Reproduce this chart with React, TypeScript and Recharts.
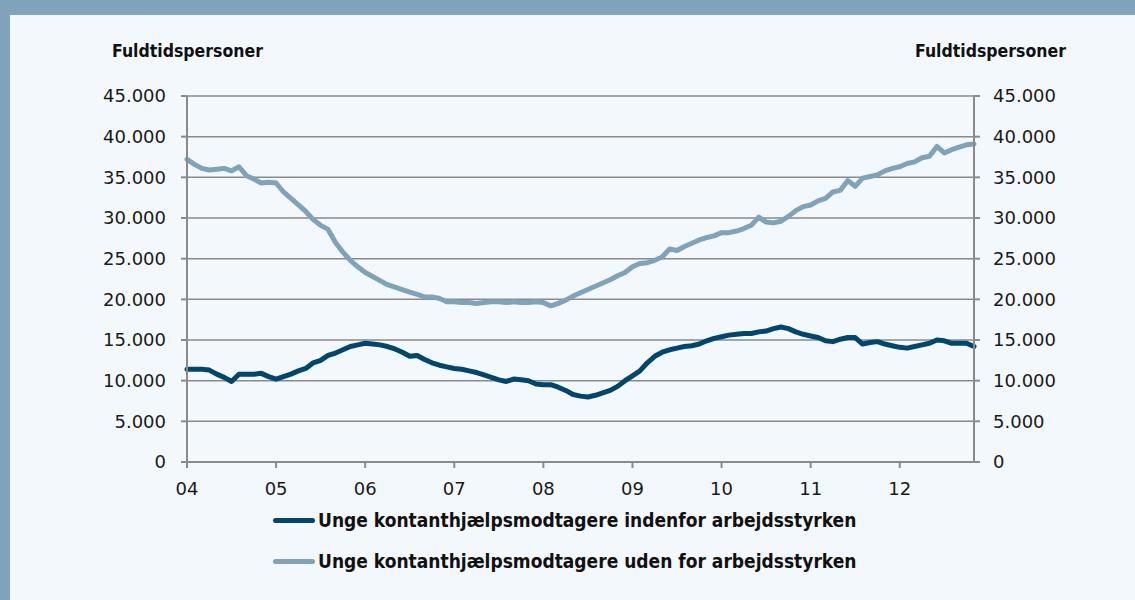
import React from "react"
import { LineChart, Line, XAxis, YAxis, CartesianGrid } from "recharts"

// monthly, Jan 2004 .. Nov 2012
const yearLabels = ["04", "05", "06", "07", "08", "09", "10", "11", "12"]

const indenfor = [
  11400, 11400, 11400, 11300, 10800, 10400, 9900, 10800, 10800, 10800, 10900, 10500,
  10200, 10500, 10800, 11200, 11500, 12200, 12500, 13100, 13400, 13800, 14200, 14400,
  14600, 14500, 14400, 14200, 13900, 13500, 13000, 13100, 12600, 12200, 11900, 11700,
  11500, 11400, 11200, 11000, 10700, 10400, 10100, 9900, 10200, 10100, 10000, 9600,
  9500, 9500, 9200, 8800, 8300, 8100, 8000, 8200, 8500, 8800, 9300, 10000,
  10600, 11200, 12200, 13000, 13500, 13800, 14000, 14200, 14300, 14500, 14900, 15200,
  15400, 15600, 15700, 15800, 15800, 16000, 16100, 16400, 16600, 16400, 16000, 15700,
  15500, 15300, 14900, 14800, 15100, 15300, 15300, 14500, 14700, 14800, 14500, 14300,
  14100, 14000, 14200, 14400, 14600, 15000, 14900, 14600, 14600, 14600, 14200,
]

const udenfor = [
  37200, 36600, 36100, 35900, 36000, 36100, 35800, 36300, 35200, 34800, 34300, 34400,
  34300, 33200, 32400, 31600, 30800, 29800, 29100, 28600, 27000, 25800, 24800, 24000,
  23300, 22800, 22300, 21800, 21500, 21200, 20900, 20600, 20300, 20300, 20100, 19700,
  19700, 19600, 19600, 19500, 19600, 19700, 19700, 19600, 19700, 19600, 19600, 19700,
  19600, 19200, 19500, 19900, 20400, 20800, 21200, 21600, 22000, 22400, 22900, 23300,
  24000, 24400, 24500, 24800, 25200, 26200, 26000, 26500, 26900, 27300, 27600, 27800,
  28200, 28200, 28400, 28700, 29100, 30100, 29500, 29400, 29600, 30200, 30900, 31400,
  31600, 32100, 32400, 33200, 33400, 34600, 33900, 34900, 35100, 35300, 35800, 36100,
  36300, 36700, 36900, 37400, 37600, 38800, 38000, 38400, 38700, 39000, 39100,
]

const yTicks = [0, 5000, 10000, 15000, 20000, 25000, 30000, 35000, 40000, 45000]

const seriesNames = [
  "Unge kontanthjælpsmodtagere indenfor arbejdsstyrken",
  "Unge kontanthjælpsmodtagere uden for arbejdsstyrken",
]
const seriesColors = ["#00466e", "#7fa3ba"]

const data = indenfor.map((v, i) => ({ m: i, inden: v, uden: udenfor[i] }))

const fmt = (v: number) => String(v).replace(/\B(?=(\d{3})+(?!\d))/g, ".")

const gridColor = "#8a8a8a"
const tickStyle = { fill: "#1a1a1a", fontSize: 18, fontFamily: "DejaVu Sans" }
const labelFont = "DejaVu Sans Condensed, DejaVu Sans, sans-serif"

export default function App() {
  return (
    <div
      style={{
        position: "absolute",
        left: 0,
        top: 0,
        width: 1135,
        height: 600,
        background: "#f3f8fc",
        overflow: "hidden",
      }}
    >
      <div style={{ position: "absolute", left: 0, top: 0, width: 1135, height: 15, background: "#7fa3ba" }} />
      <div style={{ position: "absolute", left: 0, top: 0, width: 10, height: 600, background: "#7fa3ba" }} />

      <div style={{ position: "absolute", left: 112, top: 41, fontFamily: labelFont, fontWeight: "bold", fontSize: 17.5, color: "#111" }}>
        Fuldtidspersoner
      </div>
      <div style={{ position: "absolute", left: 915, top: 41, fontFamily: labelFont, fontWeight: "bold", fontSize: 17.5, color: "#111" }}>
        Fuldtidspersoner
      </div>

      <div style={{ position: "absolute", left: 0, top: 0 }}>
        <LineChart width={1135} height={600} data={data} margin={{ top: 96, left: 107, right: 81, bottom: 108 }}>
          <CartesianGrid yAxisId="left" vertical={false} stroke={gridColor} strokeWidth={1.5} />
          <XAxis
            dataKey="m"
            type="number"
            domain={[0, 106]}
            ticks={yearLabels.map((_, i) => i * 12)}
            tickFormatter={(v: number) => yearLabels[v / 12]}
            height={30}
            tick={tickStyle}
            tickSize={6}
            tickMargin={14}
            stroke={gridColor}
            strokeWidth={2}
          />
          <YAxis
            yAxisId="left"
            orientation="left"
            domain={[0, 45000]}
            ticks={yTicks}
            tickFormatter={fmt}
            width={80}
            tick={tickStyle}
            tickSize={6}
            tickMargin={15}
            stroke={gridColor}
            strokeWidth={2}
            interval={0}
          />
          <YAxis
            yAxisId="right"
            orientation="right"
            domain={[0, 45000]}
            ticks={yTicks}
            tickFormatter={fmt}
            width={80}
            tick={{ ...tickStyle, textAnchor: "start" }}
            tickSize={6}
            tickMargin={13}
            stroke={gridColor}
            strokeWidth={2}
            interval={0}
          />
          <Line
            yAxisId="left"
            dataKey="inden"
            name={seriesNames[0]}
            type="linear"
            stroke={seriesColors[0]}
            strokeWidth={5}
            strokeLinejoin="round"
            strokeLinecap="round"
            dot={false}
            activeDot={false}
            isAnimationActive={false}
          />
          <Line
            yAxisId="right"
            dataKey="uden"
            name={seriesNames[1]}
            type="linear"
            stroke={seriesColors[1]}
            strokeWidth={5}
            strokeLinejoin="round"
            strokeLinecap="round"
            dot={false}
            activeDot={false}
            isAnimationActive={false}
          />
        </LineChart>
      </div>

      {seriesNames.map((name, i) => (
        <div
          key={name}
          style={{
            position: "absolute",
            left: 273,
            top: 509 + i * 41,
            display: "flex",
            alignItems: "center",
            fontFamily: labelFont,
            fontWeight: "bold",
            fontSize: 19,
            color: "#111",
            whiteSpace: "nowrap",
          }}
        >
          <span style={{ display: "inline-block", width: 42, height: 5, borderRadius: 3, background: seriesColors[i], marginRight: 3 }} />
          {name}
        </div>
      ))}
    </div>
  )
}
